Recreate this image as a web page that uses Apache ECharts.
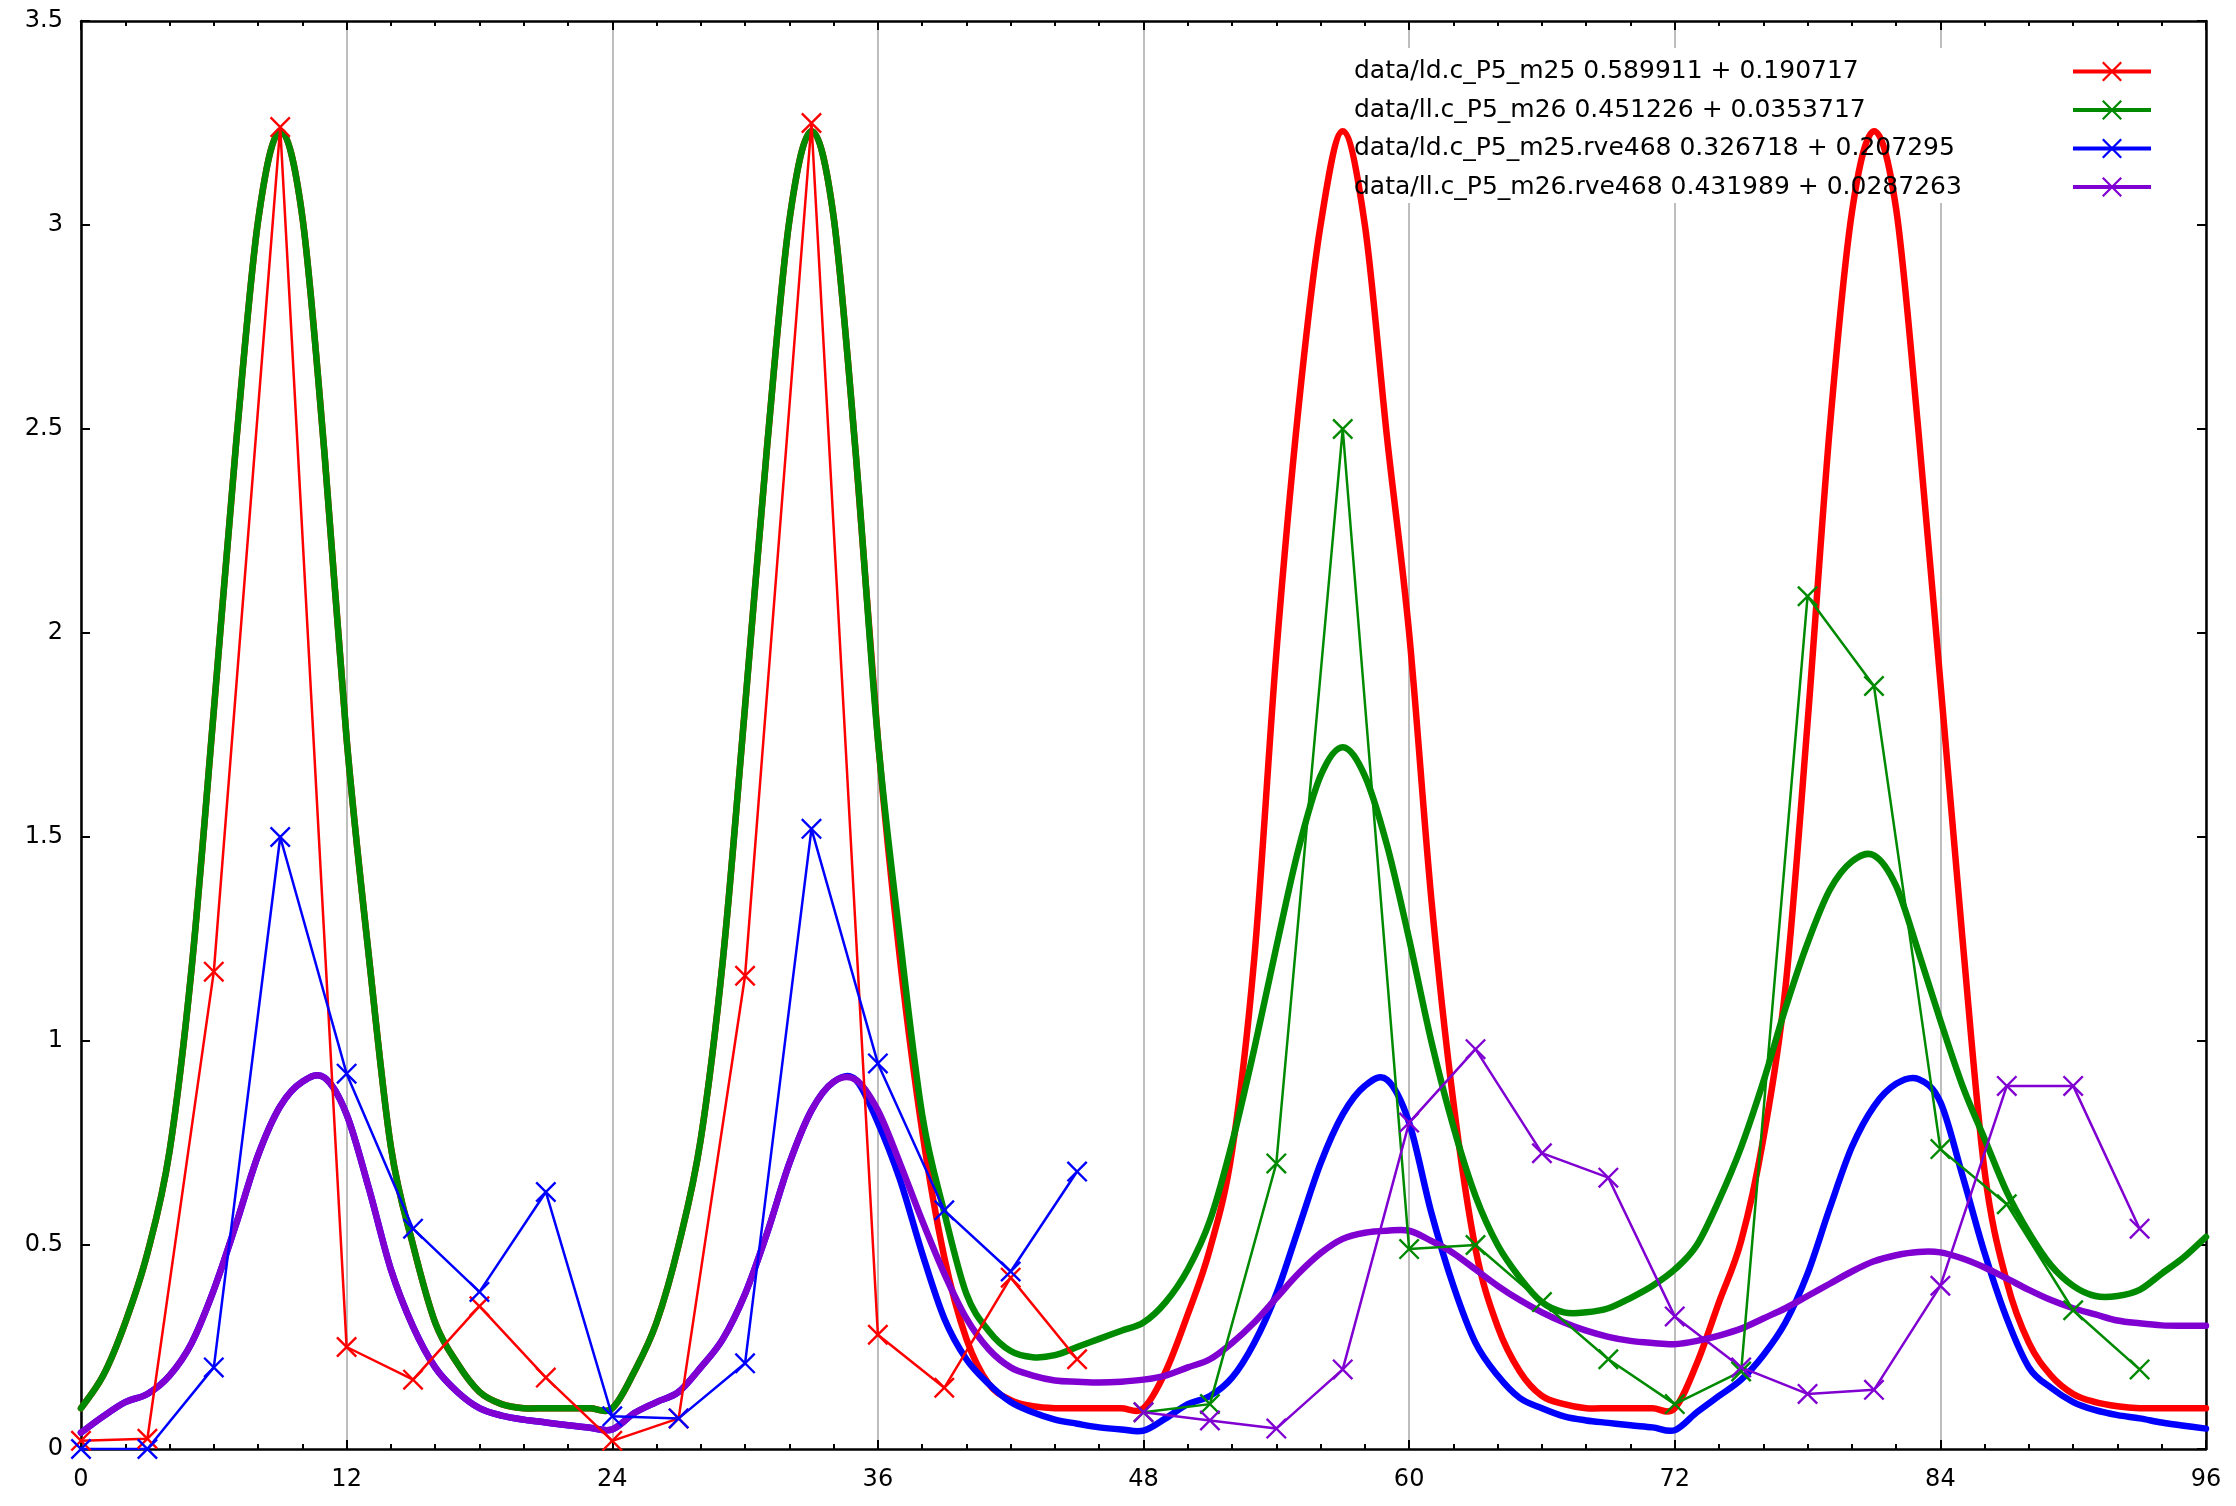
<!DOCTYPE html>
<html><head><meta charset="utf-8">
<script src="https://cdn.jsdelivr.net/npm/echarts@6/dist/echarts.min.js"></script>
<style>html,body{margin:0;padding:0;background:#fff}#c{width:2236px;height:1506px}</style>
</head><body><div id="c"></div>
<script>
// sampling grid (hours) for the smooth fitted curves
const curveHours = [];
for (let h = 0; h <= 96; h++) curveHours.push(h);

// x positions of measured points
const ldHours = [0, 3, 6, 9, 12, 15, 18, 21, 24, 27, 30, 33, 36, 39, 42, 45];
const llHours = [48, 51, 54, 57, 60, 63, 66, 69, 72, 75, 78, 81, 84, 87, 90, 93];

// measured points
const ldPts = [0.02, 0.025, 1.17, 3.24, 0.25, 0.17, 0.35, 0.175, 0.02, 0.075, 1.16, 3.25, 0.28, 0.15, 0.42, 0.22];
const llPts = [0.09, 0.11, 0.70, 2.50, 0.49, 0.50, 0.36, 0.22, 0.11, 0.19, 2.09, 1.87, 0.735, 0.60, 0.34, 0.195];
const ldRvePts = [0.0, 0.0, 0.2, 1.5, 0.92, 0.54, 0.385, 0.63, 0.08, 0.075, 0.21, 1.52, 0.945, 0.585, 0.435, 0.68];
const llRvePts = [0.09, 0.07, 0.05, 0.195, 0.80, 0.98, 0.725, 0.665, 0.325, 0.20, 0.135, 0.145, 0.40, 0.89, 0.89, 0.54];

// fitted curves, h = 0..96
const ldFit = [
  0.10, 0.18, 0.31, 0.48, 0.73, 1.18, 1.81, 2.46, 3.01, 3.23, 3.02, 2.44, 1.74, 1.21, 0.74, 0.50, 0.31, 0.21, 0.14, 0.11, 0.10, 0.10, 0.10, 0.10,
  0.10, 0.19, 0.31, 0.50, 0.76, 1.20, 1.82, 2.46, 3.01, 3.23, 3.02, 2.44, 1.74, 1.20, 0.78, 0.47, 0.27, 0.16, 0.12, 0.105, 0.10, 0.10, 0.10, 0.10,
  0.10, 0.19, 0.33, 0.49, 0.73, 1.20, 1.95, 2.55, 3.00, 3.23, 3.00, 2.48, 2.00, 1.35, 0.85, 0.49, 0.30, 0.19, 0.13, 0.11, 0.10, 0.10, 0.10, 0.10,
  0.10, 0.21, 0.36, 0.51, 0.76, 1.13, 1.78, 2.50, 3.03, 3.23, 3.04, 2.50, 1.88, 1.25, 0.68, 0.41, 0.26, 0.18, 0.135, 0.115, 0.105, 0.10, 0.10, 0.10, 0.10
];
const llFit = [
  0.10, 0.18, 0.31, 0.48, 0.73, 1.18, 1.81, 2.46, 3.01, 3.23, 3.02, 2.44, 1.74, 1.21, 0.74, 0.50, 0.31, 0.21, 0.14, 0.11, 0.10, 0.10, 0.10, 0.10,
  0.10, 0.19, 0.31, 0.50, 0.76, 1.20, 1.82, 2.46, 3.01, 3.23, 3.02, 2.44, 1.74, 1.25, 0.82, 0.58, 0.38, 0.29, 0.24, 0.225, 0.23, 0.25, 0.27, 0.29,
  0.31, 0.36, 0.44, 0.56, 0.75, 0.98, 1.23, 1.47, 1.65, 1.72, 1.65, 1.48, 1.25, 1.00, 0.79, 0.62, 0.50, 0.42, 0.36, 0.335, 0.335, 0.345, 0.37, 0.40,
  0.44, 0.50, 0.61, 0.74, 0.90, 1.08, 1.24, 1.37, 1.44, 1.455, 1.38, 1.22, 1.05, 0.89, 0.76, 0.63, 0.53, 0.45, 0.40, 0.375, 0.375, 0.39, 0.43, 0.47, 0.52
];
const ldRveFit = [
  0.04, 0.08, 0.115, 0.135, 0.18, 0.26, 0.39, 0.55, 0.72, 0.84, 0.90, 0.91, 0.82, 0.64, 0.44, 0.30, 0.20, 0.14, 0.10, 0.082, 0.072, 0.065, 0.058, 0.052,
  0.048, 0.088, 0.115, 0.14, 0.20, 0.27, 0.38, 0.53, 0.70, 0.83, 0.90, 0.905, 0.80, 0.66, 0.48, 0.32, 0.22, 0.16, 0.115, 0.09, 0.072, 0.062, 0.053, 0.048,
  0.045, 0.075, 0.11, 0.13, 0.175, 0.26, 0.38, 0.54, 0.70, 0.82, 0.89, 0.905, 0.80, 0.58, 0.40, 0.26, 0.18, 0.125, 0.10, 0.08, 0.07, 0.064, 0.058, 0.053,
  0.046, 0.09, 0.13, 0.17, 0.23, 0.31, 0.43, 0.59, 0.74, 0.84, 0.895, 0.907, 0.85, 0.67, 0.48, 0.32, 0.20, 0.15, 0.115, 0.095, 0.083, 0.075, 0.065, 0.057, 0.05
];
const llRveFit = [
  0.04, 0.08, 0.115, 0.135, 0.18, 0.26, 0.39, 0.55, 0.72, 0.84, 0.90, 0.91, 0.82, 0.64, 0.44, 0.30, 0.20, 0.14, 0.10, 0.082, 0.072, 0.065, 0.058, 0.052,
  0.048, 0.088, 0.115, 0.14, 0.20, 0.27, 0.38, 0.53, 0.70, 0.83, 0.90, 0.905, 0.83, 0.70, 0.56, 0.43, 0.32, 0.245, 0.20, 0.18, 0.168, 0.165, 0.163, 0.165,
  0.17, 0.18, 0.20, 0.22, 0.26, 0.31, 0.37, 0.43, 0.48, 0.515, 0.53, 0.535, 0.535, 0.51, 0.48, 0.44, 0.40, 0.365, 0.335, 0.31, 0.29, 0.275, 0.265, 0.26,
  0.257, 0.265, 0.278, 0.295, 0.32, 0.345, 0.375, 0.405, 0.435, 0.46, 0.475, 0.483, 0.482, 0.467, 0.445, 0.418, 0.39, 0.365, 0.345, 0.33, 0.315, 0.308, 0.303, 0.302, 0.302
];

const seriesNames = [
  'data/ld.c_P5_m25 0.589911 + 0.190717',
  'data/ll.c_P5_m26 0.451226 + 0.0353717',
  'data/ld.c_P5_m25.rve468 0.326718 + 0.207295',
  'data/ll.c_P5_m26.rve468 0.431989 + 0.0287263'
];

const RED = '#ff0000', GREEN = '#008a00', BLUE = '#0000ff', PURPLE = '#8000d2';
const FONT = 'DejaVu Sans';
const XSYM = 'path://M0,0.8L0.8,0L10,9.2L9.2,10Z M9.2,0L10,0.8L0.8,10L0,9.2Z';

const zip = (xs, ys) => xs.map((x, i) => [x, ys[i]]);

// smooth curve through the sampled values (Catmull-Rom), positioned with the axis scales
function curve(name, ys, color) {
  const data = zip(curveHours, ys);
  return {
    type: 'custom', name: name, silent: true,
    coordinateSystem: 'cartesian2d',
    data: [data[0]],
    encode: { x: 0, y: 1 },
    renderItem: function (params, api) {
      const p = data.map(d => api.coord(d));
      const n = p.length;
      let d = 'M' + p[0][0] + ' ' + p[0][1];
      for (let i = 0; i < n - 1; i++) {
        const p0 = p[Math.max(i - 1, 0)], p1 = p[i], p2 = p[i + 1], p3 = p[Math.min(i + 2, n - 1)];
        const c1x = p1[0] + (p2[0] - p0[0]) / 6, c1y = p1[1] + (p2[1] - p0[1]) / 6;
        const c2x = p2[0] - (p3[0] - p1[0]) / 6, c2y = p2[1] - (p3[1] - p1[1]) / 6;
        d += ' C' + c1x + ' ' + c1y + ' ' + c2x + ' ' + c2y + ' ' + p2[0] + ' ' + p2[1];
      }
      return {
        type: 'path',
        shape: { pathData: d },
        style: { stroke: color, lineWidth: 6.5, fill: 'none', lineJoin: 'round', lineCap: 'round' }
      };
    }
  };
}
function points(name, xs, ys, color) {
  return {
    type: 'line', name: name, data: zip(xs, ys),
    symbol: XSYM, symbolSize: 21, showSymbol: true, showAllSymbol: true,
    lineStyle: { color: color, width: 2.5 }, itemStyle: { color: color },
    emphasis: { disabled: true }
  };
}

const axisCommonX = {
  type: 'value', min: 0, max: 96, interval: 12,
  axisLine: { show: true, onZero: false, lineStyle: { color: '#000', width: 2.5 } },
  axisTick: { show: true, inside: true, length: 9, lineStyle: { color: '#000', width: 2 } },
  minorTick: { show: true, splitNumber: 6, length: 5, lineStyle: { color: '#000', width: 2 } },
  minorSplitLine: { show: false }
};
const axisCommonY = {
  type: 'value', min: 0, max: 3.5, interval: 0.5,
  axisLine: { show: true, onZero: false, lineStyle: { color: '#000', width: 2.5 } },
  axisTick: { show: true, inside: true, length: 9, lineStyle: { color: '#000', width: 2 } },
  splitLine: { show: false }
};

const chart = echarts.init(document.getElementById('c'), null, { renderer: 'canvas' });
chart.setOption({
  animation: false,
  backgroundColor: '#fff',
  grid: { left: 81, right: 30, top: 21, bottom: 57, containLabel: false, outerBoundsMode: 'none' },
  xAxis: [
    Object.assign({}, axisCommonX, {
      position: 'bottom',
      axisLabel: { show: true, margin: 19, color: '#000', fontFamily: FONT, fontSize: 24 },
      splitLine: { show: true, lineStyle: { color: '#a8a8a8', width: 1.5 } }
    }),
    Object.assign({}, axisCommonX, {
      position: 'top',
      axisLabel: { show: false },
      splitLine: { show: false }
    })
  ],
  yAxis: [
    Object.assign({}, axisCommonY, {
      position: 'left',
      axisLabel: { show: true, margin: 18, color: '#000', fontFamily: FONT, fontSize: 24 }
    }),
    Object.assign({}, axisCommonY, {
      position: 'right',
      axisLabel: { show: false }
    })
  ],
  legend: {
    data: seriesNames,
    orient: 'vertical', left: 1349, top: 54, align: 'right',
    itemWidth: 78, itemHeight: 25, itemGap: 13.5,
    selectedMode: false,
    formatter: n => '{t|' + n + '}',
    lineStyle: { width: 4 },
    textStyle: {
      fontFamily: FONT, fontSize: 25, color: '#000',
      rich: { t: { width: 714, align: 'left', fontFamily: FONT, fontSize: 25, color: '#000' } }
    }
  },
  graphic: [{
    type: 'rect', z: 1, silent: true,
    shape: { x: 1338, y: 48, width: 860, height: 155 },
    style: { fill: '#ffffff' }
  }],
  series: [
    curve('ld fit', ldFit, RED),
    curve('ll fit', llFit, GREEN),
    curve('ld rve fit', ldRveFit, BLUE),
    curve('ll rve fit', llRveFit, PURPLE),
    points(seriesNames[0], ldHours, ldPts, RED),
    points(seriesNames[1], llHours, llPts, GREEN),
    points(seriesNames[2], ldHours, ldRvePts, BLUE),
    points(seriesNames[3], llHours, llRvePts, PURPLE)
  ]
});
</script>
</body></html>
